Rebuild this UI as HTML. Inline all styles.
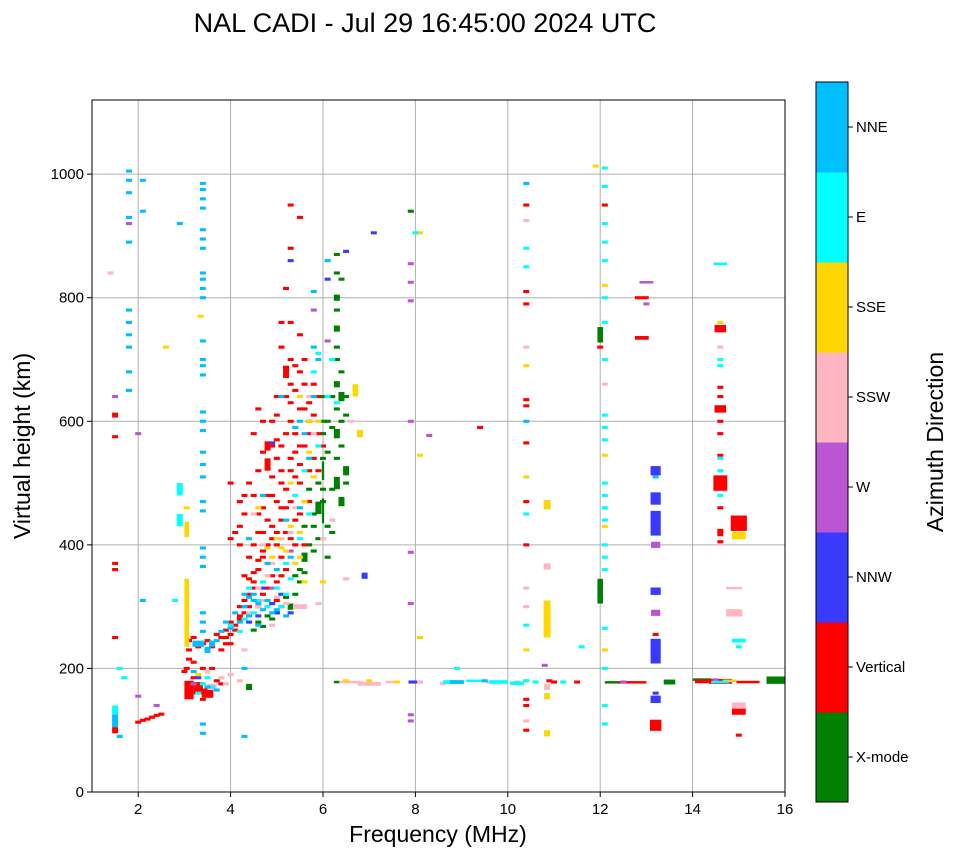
<!DOCTYPE html>
<html><head><meta charset="utf-8"><style>
body{margin:0;background:#fff;}
svg text{font-family:"Liberation Sans",sans-serif;fill:#000;}
</style></head><body>
<svg id="chart" width="958" height="857" viewBox="0 0 958 857" xmlns="http://www.w3.org/2000/svg">
<text x="425" y="32" font-size="27" text-anchor="middle">NAL CADI - Jul 29 16:45:00 2024 UTC</text>
<g id="grid"></g>
<g id="marks"></g>
<rect x="92" y="100" width="693" height="692" fill="none" stroke="#000" stroke-width="1"/>
<g id="axes"></g>
<text x="438" y="842" font-size="23" text-anchor="middle">Frequency (MHz)</text>
<text transform="translate(30,446) rotate(-90)" font-size="23" text-anchor="middle">Virtual height (km)</text>
<g id="cbar"></g>
<text transform="translate(943,442) rotate(-90)" font-size="23" text-anchor="middle">Azimuth Direction</text>
</svg>
<script>
const xTicks=[2,4,6,8,10,12,14,16];
const yTicks=[0,200,400,600,800,1000];
const dirLabels=["X-mode","Vertical","NNW","W","SSW","SSE","E","NNE"];
const dirColors=["#008000","#ff0000","#3a3aff","#ba55d3","#ffb6c1","#ffd700","#00ffff","#00bfff"];
// [freq MHz, height km, span km (opt), width MHz (opt)]
const xmode=[[4.4,170,10],[6.3,178,4],[6.0,455,40,0.05],[6.0,520,30,0.05],[6.0,600],[6.0,640],[6.3,500,20],[6.3,540],[6.3,580,15],[6.3,620],[6.3,660,10],[6.3,700],[6.3,750,10],[6.3,800,10],[6.3,840],[6.3,870],[6.4,470,15],[6.4,560],[6.5,610],[6.5,520,15],[6.2,490],[6.1,550],[6.1,600],[6.1,430],[5.9,460,20],[5.8,430],[5.7,400],[5.6,380,15],[5.5,360],[5.4,350],[5.2,315],[5.0,290],[4.8,285],[4.6,275],[6.2,420],[7.9,940],[12.0,325,40,0.12],[12.0,740,25,0.12],[13.5,178,8,0.25],[15.8,181,12,0.4],[12.3,178,3,0.4],[14.2,182,4,0.4],
[5.3,300,10],[5.4,320],[5.5,340],[5.6,355],[5.8,390],[5.9,410],[6.0,470],[6.0,490],[6.0,580],[6.0,540],[6.4,640,15],[6.4,680],[6.5,640],[6.3,720],[6.4,600],[6.2,590],[6.2,640],[5.9,500],[5.7,490],[6.5,500],[6.1,380],[5.8,450],[5.6,470],[6.4,830],[6.3,780],[4.9,280],[5.1,300],[5.6,430],[4.7,268],[4.5,262]];
const vertical=[[1.5,100,10],[1.5,610,8],[1.5,575],[1.5,370],[1.5,360],[1.5,250],[2.0,113],[2.1,116],[2.2,118],[2.3,121],[2.4,124],[2.5,126],
[3.1,165,30,0.2],[3.3,168,20,0.2],[3.5,160,15,0.25],[3.2,185],[3.0,195],[3.1,230],[3.05,200],
[3.4,240],[3.6,235],[3.8,250],[3.9,262],[4.0,255],[4.1,270],[4.2,280],[4.0,410],[4.0,500],[4.2,430],[4.2,470],[4.3,480],[4.4,500],[4.3,350],[4.4,320],[4.5,340],[4.6,360],[4.6,300],[4.7,380],[4.7,420],[4.8,440],[4.8,530,20],[4.9,560],[4.9,600],[5.0,640],[5.0,470],[5.1,520],[5.1,380],[5.2,420],[5.2,680,20],[5.3,700],[5.3,600],[5.3,760],[5.2,815],[5.3,880],[5.3,950],[5.4,650],[5.4,550],[5.5,500],[5.5,450],[5.6,660],[5.6,620],[5.7,580],[5.6,400],[5.8,540],[5.5,930],[4.5,580],[4.6,620],[5.0,610],[5.1,720],[4.9,350],[5.0,310],[5.7,470],[5.9,520],[5.9,640],[6.0,560],[4.5,400],[4.6,450],[4.8,480],[4.9,430],[5.1,460],[5.2,490],[5.3,540],[5.4,580],[5.5,620],[5.6,700],[5.3,410],[5.4,440],[4.4,380],[4.2,300],[4.3,310],[4.5,330],[4.6,520],[4.7,550],[5.0,400],[5.2,360],[5.4,400],[5.7,520],[5.8,610],[5.3,660],[3.8,230],[3.6,200],
[3.1,215],[3.1,245],[3.2,250],[3.3,235],[3.5,245],[3.7,255],[3.9,250],[4.0,240],[4.1,262],[4.2,285],[4.3,290],[4.0,275],[3.9,240],[4.4,300],[4.4,345],[4.5,355],[4.6,375],[4.7,390],[4.8,400],[4.9,410],[5.0,420],[5.1,440],[5.2,460],[5.3,470],[5.4,510],[5.5,530],[5.6,560],[5.7,600],[5.8,660],[5.5,680],[5.3,630],[5.2,580],[5.1,560],[5.0,540],[4.9,510],[4.8,560,15],[4.7,600],[5.0,570],[5.2,640],[5.4,690],[5.5,740],[5.1,760],[4.3,450],[4.1,420],[4.2,400],[4.6,420],[4.5,480],[4.7,460],[4.9,480],[5.1,500],[5.3,520],[5.5,560],[5.7,630],[5.9,580],[4.8,330],[4.7,320],[5.0,340],[5.1,350],[3.4,200],[3.2,210],[3.7,180],[3.4,150],[3.8,175],
[10.4,100],[10.4,140],[10.4,150],[10.4,400],[10.4,470],[10.4,565],[10.4,625],[10.4,635],[10.4,790],[10.4,810],[10.4,950],[12.1,950],[12.0,720],[12.7,178,3,0.6],[12.9,800,5,0.3],[12.9,735,6,0.3],[13.2,108,18,0.25],[13.2,255],[9.4,590],
[14.6,750,12,0.25],[14.6,655],[14.6,640],[14.6,620,12,0.25],[14.6,600],[14.6,580],[14.6,545],[14.6,500,25,0.3],[14.6,460],[14.6,420,12],[14.6,405],[15.0,435,25,0.35],[14.6,179,8,0.5],[14.2,179,6,0.3],[15.0,130,10,0.3],[15.0,92],[11.5,178],[11.0,178],[10.9,180],[15.2,178,4,0.5]];
const nnw=[[5.3,860],[6.5,875],[6.9,350,10],[7.1,905],[4.9,565],[5.3,290],[4.7,330],[13.2,228,40,0.22],[13.2,325,12,0.22],[13.2,475,20,0.22],[13.2,435,40,0.22],[13.2,520,15,0.22],[13.2,150,12,0.22],[13.2,160],[6.1,830],[5.0,290],[4.8,300],[4.3,300],[8.0,178,5,0.3],[4.4,275],[4.6,285],[4.9,305],[5.1,320],[3.3,185]];
const w=[[1.5,640],[1.8,920],[2.0,580],[2.0,155],[2.4,140],[7.9,855],[7.9,825],[7.9,795],[7.9,600],[7.9,388],[7.9,305],[7.9,125],[7.9,115],[13.2,290,10,0.2],[13.2,400,10,0.2],[13.0,825,4,0.3],[13.0,790],[8.3,577],[10.8,205],[12.5,178],[14.5,180,8],[5.8,780],[6.1,730],[4.9,330],[5.3,390],[3.2,175]];
const ssw=[[1.4,840],[3.5,195,6],[3.8,185],[4.0,190],[4.2,180],[4.6,300],[4.7,310],[5.0,315],[5.2,305],[5.5,300,8,0.3],[5.9,305],[6.2,440],[6.5,345],[6.6,178,4,0.5],[7.0,175,6,0.5],[7.5,178,4,0.3],[8.1,178],[8.6,176,6],[9.6,178],[10.2,178],[10.4,300],[10.4,330],[10.4,720],[10.4,925],[10.85,365,10,0.15],[10.85,170,10],[10.4,115],[14.9,290,12,0.35],[14.9,330,4,0.35],[15.0,140,10,0.3],[14.6,720],[12.1,660],[4.9,270],[5.3,420],[5.7,640],[6.0,410],[4.3,230],[4.5,450],[6.6,600],
[3.6,170,10,0.2],[4.4,290],[4.6,330],[4.8,350],[4.9,370],[5.1,410],[5.4,460],[5.8,580],[4.7,400],[3.9,175]];
const sse=[[3.05,290,110,0.1],[3.05,425,25,0.1],[3.05,460],[3.35,770],[2.6,720],[5.0,410],[5.2,390],[5.4,370],[5.5,380],[5.9,600],[6.7,650,20,0.12],[6.8,580,12],[5.7,550],[6.5,180],[7.0,180],[7.6,178],[8.1,905],[8.1,545],[8.1,250],[10.4,180],[10.4,230],[10.4,690],[10.4,510],[10.85,280,60,0.15],[10.85,465,15,0.15],[10.85,95,10],[10.85,155,10],[11.9,1013],[12.1,820],[12.1,545],[12.1,430],[12.1,230],[14.6,760],[15.0,415,12,0.3],[14.8,180,4,0.3],[4.8,395],[5.3,500],[5.6,340],[6.0,340],[4.6,460],
[5.1,395],[5.3,430],[5.5,420],[5.6,470],[5.8,510],[4.9,380],[5.7,600],[5.5,640],[3.3,190]];
const e=[[1.5,130,20],[1.6,200],[1.7,185],[2.8,310],[2.9,440,20],[2.9,490,20],[3.4,175],[3.6,170],[4.0,270],[4.2,260],[4.5,290],[4.8,300],[5.0,330],[5.2,370],[5.4,480],[5.6,520],[5.8,680],[6.1,640],[8.0,905],[8.9,200],[8.8,178,6,0.4],[9.3,180,4,0.4],[9.8,178,6,0.4],[10.2,176,6,0.3],[10.6,178],[11.2,178],[10.4,180],[10.4,270],[10.4,850],[10.4,880],[10.4,450],[12.1,1010],[12.1,980],[12.1,920],[12.1,890],[12.1,860],[12.1,800],[12.1,760],[12.1,700],[12.1,610],[12.1,590],[12.1,570],[12.1,500],[12.1,480],[12.1,460],[12.1,440],[12.1,400],[12.1,380],[12.1,360],[12.1,200],[12.1,140],[12.1,110],[12.1,265],[11.6,235],[14.6,855,4,0.3],[14.6,700],[14.6,690],[14.6,540],[14.6,520],[14.6,480],[15.0,245,6,0.3],[15.0,235],[14.6,178,4,0.4],[4.4,330],[4.7,340],[5.1,300],[5.9,710],[6.2,700],[6.3,630],
[4.3,280],[4.6,310],[5.2,320],[5.3,345],[5.5,410],[5.7,450],[5.9,560],[3.5,185],[3.3,160]];
const nne=[[1.8,1005],[1.8,990],[1.8,970],[1.8,930],[1.8,890],[1.8,780],[1.8,760],[1.8,740],[1.8,720],[1.8,680],[1.8,650],[1.5,115,20],[1.6,90],[2.1,990],[2.1,940],[2.1,310],[2.9,920],[3.4,985],[3.4,975],[3.4,960],[3.4,945],[3.4,910],[3.4,895],[3.4,880],[3.4,840],[3.4,830],[3.4,815],[3.4,800],[3.4,730],[3.4,700],[3.4,690],[3.4,675],[3.4,615],[3.4,600],[3.4,585],[3.4,550],[3.4,530],[3.4,510],[3.4,470],[3.4,455],[3.4,395],[3.4,380],[3.4,365],[3.4,290],[3.4,275],[3.4,260],[3.4,110],[3.4,95],[3.3,240,10,0.25],[3.5,230,10],[3.7,245],[3.9,275],[4.1,290],[4.3,300],[4.4,315],[4.5,320],[4.6,305],[4.8,310],[5.0,295],[5.2,285],[4.3,90],[4.4,410],[4.7,480],[5.0,360],[5.2,440],[5.4,590],[5.6,580],[5.8,810],[5.8,720],[6.1,860],[8.9,178,6,0.3],[9.5,180],[10.4,985],[10.4,600],[13.2,510],[4.3,200],[4.6,270],[5.1,640],[5.5,600],
[3.6,240,10],[3.8,260],[4.0,265],[4.2,275],[4.4,285],[4.7,295],[4.9,290],[4.5,310],[4.3,320],[4.8,370],[5.3,380],[5.5,460],[5.7,540],[5.8,640],[5.9,700],[3.2,195],[3.5,170],[3.7,165]];
const series=[xmode,vertical,nnw,w,ssw,sse,e,nne];
const ns="http://www.w3.org/2000/svg";
const X0=92,X1=785,Y0=792,Y1=100,FMIN=1,FMAX=16,HMAX=1120;
function xs(f){return X0+(f-FMIN)/(FMAX-FMIN)*(X1-X0);}
function ys(h){return Y0-h/HMAX*(Y0-Y1);}
function mk(t,a,p){const el=document.createElementNS(ns,t);for(const k in a)el.setAttribute(k,a[k]);p.appendChild(el);return el;}
const grid=document.getElementById('grid'),axes=document.getElementById('axes'),marks=document.getElementById('marks'),cbar=document.getElementById('cbar');
xTicks.forEach(t=>{const x=xs(t);
const g=mk('line',{x1:x,x2:x,y1:Y1,y2:Y0,stroke:'#b0b0b0','stroke-width':1},grid);


const tk=mk('line',{x1:x,x2:x,y1:Y0,y2:Y0+5,stroke:'#000'},axes);


const tx=mk('text',{x:x,y:Y0+22,'font-size':15,'text-anchor':'middle'},axes);tx.textContent=t;

});
yTicks.forEach(t=>{const y=ys(t);
const g=mk('line',{x1:X0,x2:X1,y1:y,y2:y,stroke:'#b0b0b0','stroke-width':1},grid);


const tk=mk('line',{x1:X0-5,x2:X0,y1:y,y2:y,stroke:'#000'},axes);


const tx=mk('text',{x:X0-8,y:y+5,'font-size':15,'text-anchor':'end'},axes);tx.textContent=t;

});
series.forEach((arr,i)=>{arr.forEach(p=>{const f=p[0],h=p[1],sp=p[2]||5,wd=p[3]||0.13;
const r=mk('rect',{x:xs(f-wd/2),y:ys(h+sp/2),width:Math.max(2,xs(f+wd/2)-xs(f-wd/2)),height:Math.max(2.5,ys(h-sp/2)-ys(h+sp/2)),fill:dirColors[i]},marks);

});});
const CB0=82,CB1=802,CBX=816,CBW=32,seg=(CB1-CB0)/dirLabels.length;
dirLabels.forEach((lab,i)=>{const y=CB1-(i+1)*seg;
const r=mk('rect',{x:CBX,y:y,width:CBW,height:seg+0.5,fill:dirColors[i]},cbar);


const tk=mk('line',{x1:CBX+CBW,x2:CBX+CBW+5,y1:y+seg/2,y2:y+seg/2,stroke:'#000'},cbar);


const tx=mk('text',{x:CBX+CBW+8,y:y+seg/2+5,'font-size':15},cbar);tx.textContent=lab;

});
const fr=mk('rect',{x:CBX,y:CB0,width:CBW,height:CB1-CB0,fill:'none',stroke:'#000'},cbar);


</script>
</body></html>
